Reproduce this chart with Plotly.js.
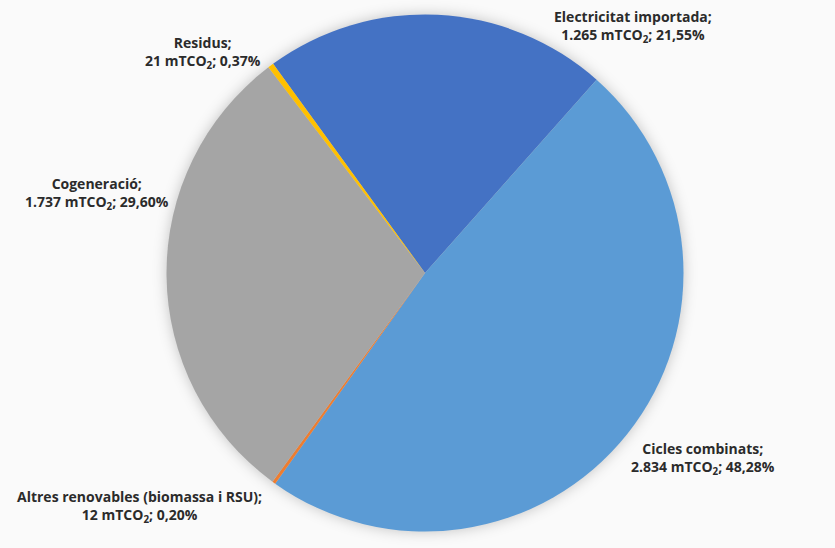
<!DOCTYPE html>
<html>
<head>
<meta charset="utf-8">
<script src="https://cdn.plot.ly/plotly-3.0.1.min.js"></script>
<style>
  html, body { margin: 0; padding: 0; background: #fafafa; }
  #chart { width: 835px; height: 548px; }
  #chart .pielayer { filter: drop-shadow(0 0 7px rgba(0,0,0,0.22)); }
</style>
</head>
<body>
<div id="chart"></div>
<script>
// Emissions by source (mTCO2) and their stated shares
const categories = [
  'Electricitat importada',
  'Cicles combinats',
  'Altres renovables (biomassa i RSU)',
  'Cogeneració',
  'Residus'
];
const emissions = [1265, 2834, 12, 1737, 21];
const shareLabels = ['21,55%', '48,28%', '0,20%', '29,60%', '0,37%'];
const sliceColors = ['#4472C4', '#5B9BD5', '#ED7D31', '#A5A5A5', '#FFC000'];

// Label anchor points (paper coordinates) for each category
const labelPos = [
  { x: 633 / 835, y: 1 - 27 / 548 },
  { x: 703 / 835, y: 1 - 458 / 548 },
  { x: 139 / 835, y: 1 - 506 / 548 },
  { x: 97 / 835,  y: 1 - 193 / 548 },
  { x: 203 / 835, y: 1 - 53 / 548 }
];

function fmtThousands(v) {
  return String(v).replace(/\B(?=(\d{3})+(?!\d))/g, '.');
}

const W = 835, H = 548;
const cx = 425, cy = 273, r = 258.5;

const trace = {
  type: 'pie',
  labels: categories,
  values: emissions,
  sort: false,
  direction: 'clockwise',
  rotation: -36,
  textinfo: 'none',
  hoverinfo: 'label+value+percent',
  marker: { colors: sliceColors, line: { width: 0 } },
  domain: {
    x: [(cx - r) / W, (cx + r) / W],
    y: [(H - cy - r) / H, (H - cy + r) / H]
  }
};

const annotations = categories.map((c, i) => ({
  xref: 'paper', yref: 'paper',
  x: labelPos[i].x, y: labelPos[i].y,
  xanchor: 'center', yanchor: 'middle',
  align: 'center',
  showarrow: false,
  text: '<b>' + c + ';<br>' + fmtThousands(emissions[i]) + ' mTCO<sub>2</sub>; ' + shareLabels[i] + '</b>',
  font: { family: 'Open Sans, Arial, sans-serif', size: 14, color: '#2b2b2b' }
}));

const layout = {
  width: W, height: H,
  margin: { l: 0, r: 0, t: 0, b: 0 },
  paper_bgcolor: '#fafafa',
  showlegend: false,
  annotations: annotations
};

Plotly.newPlot('chart', [trace], layout, { displayModeBar: false, staticPlot: true });
</script>
</body>
</html>
